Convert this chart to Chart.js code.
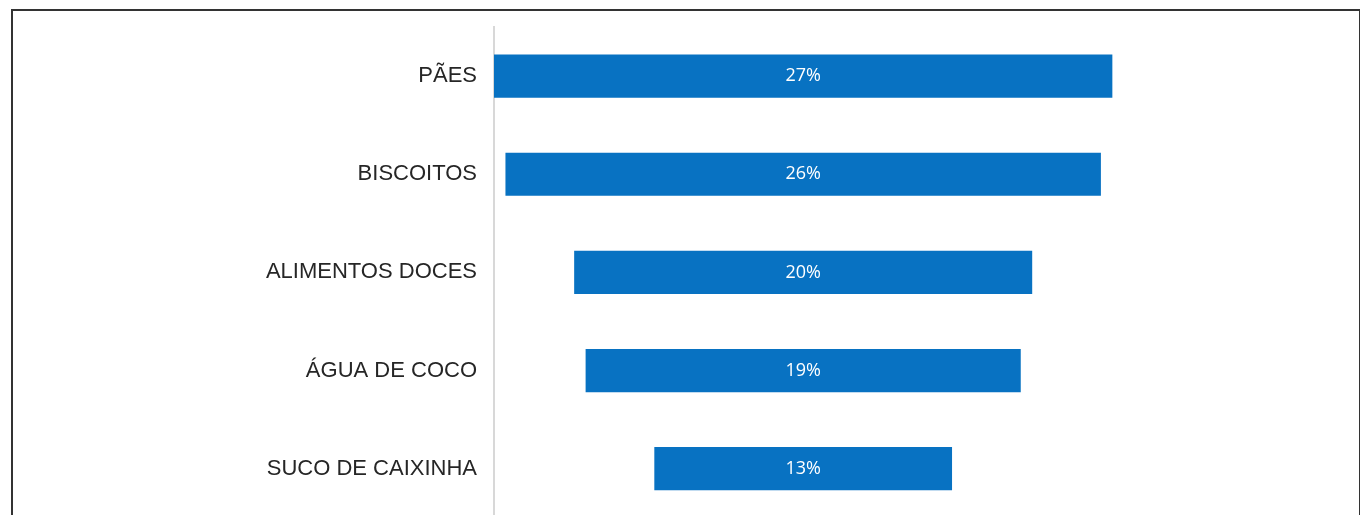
<!DOCTYPE html>
<html>
<head>
<meta charset="utf-8">
<script src="https://cdn.jsdelivr.net/npm/chart.js@4.4.1/dist/chart.umd.min.js"></script>
<style>
  html, body { margin: 0; padding: 0; background: #fff; overflow: hidden; }
  #frame { position: absolute; left: 11px; top: 9px; width: 1346px; height: 600px; border: 2px solid #333; border-bottom: none; }
  #funnelChart { position: absolute; left: 0; top: 0; }
</style>
</head>
<body>
<div id="frame"></div>
<canvas id="funnelChart" width="1360" height="540"></canvas>
<script>
const categories = ['PÃES', 'BISCOITOS', 'ALIMENTOS DOCES', 'ÁGUA DE COCO', 'SUCO DE CAIXINHA'];
const percentages = [27, 26, 20, 19, 13];

// barras centradas (funil): cada barra vai de -v/2 até v/2
const funnelData = percentages.map(v => [-v / 2, v / 2]);

const barLabels = {
    id: 'barLabels',
    afterDatasetsDraw(chart) {
        const ctx = chart.ctx;
        const meta = chart.getDatasetMeta(0);
        ctx.save();
        ctx.fillStyle = '#ffffff';
        ctx.font = '18px "Open Sans", sans-serif';
        ctx.textAlign = 'center';
        ctx.textBaseline = 'middle';
        meta.data.forEach((bar, i) => {
            const x = (bar.x + bar.base) / 2;
            ctx.fillText(percentages[i] + '%', x, bar.y);
        });
        ctx.restore();
    }
};

new Chart(document.getElementById('funnelChart'), {
    type: 'bar',
    data: {
        labels: categories,
        datasets: [{
            data: funnelData,
            backgroundColor: '#0872c2',
            borderWidth: 0,
            borderSkipped: false,
            barPercentage: 0.44,
            categoryPercentage: 1
        }]
    },
    options: {
        indexAxis: 'y',
        responsive: false,
        animation: false,
        layout: { padding: { left: 0, right: 20, top: 27, bottom: 19 } },
        scales: {
            x: {
                display: false,
                min: -13.5,
                max: 23.44
            },
            y: {
                grid: { display: false },
                border: { display: true, color: '#d8d8d8', width: 2 },
                ticks: {
                    color: '#262626',
                    padding: 9,
                    font: { family: '"Liberation Sans", Arial, sans-serif', size: 22 }
                },
                afterFit(scale) { scale.width = 494; }
            }
        },
        plugins: {
            legend: { display: false },
            tooltip: { enabled: false }
        }
    },
    plugins: [barLabels]
});
</script>
</body>
</html>
